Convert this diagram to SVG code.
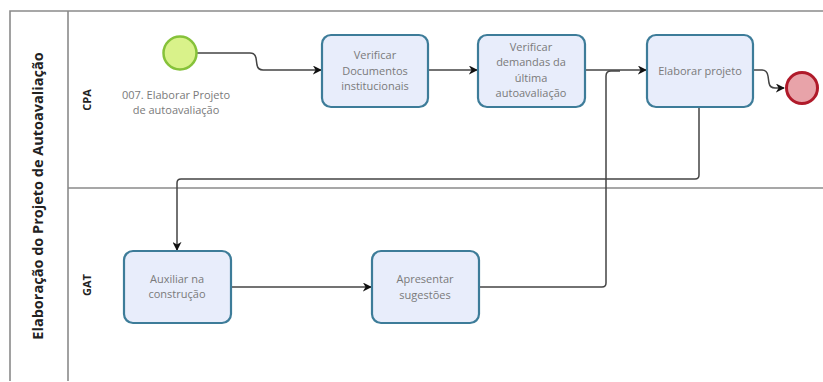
<svg xmlns="http://www.w3.org/2000/svg" width="823" height="382" viewBox="0 0 823 382">
<defs>
<style>
.pool{fill:none;stroke:#8a8a8a;stroke-width:1.6}
.task rect{fill:#e8edfb;stroke:#3d7c99;stroke-width:2.2}
.task text,.lbl{font-family:"Open Sans","Liberation Sans",sans-serif;font-size:11px;fill:#7a7a7a;text-anchor:middle}
.hdr{font-family:"Open Sans","Liberation Sans",sans-serif;font-weight:bold;fill:#222;text-anchor:middle}
.conn path{fill:none;stroke:#444;stroke-width:1.5}
</style>
<marker id="arr" viewBox="0 0 10 10" refX="9" refY="5" markerWidth="9" markerHeight="9" markerUnits="userSpaceOnUse" orient="auto">
<path d="M0,0 L10,5 L0,10 L3,5 z" fill="#111"/>
</marker>
</defs>
<rect width="823" height="382" fill="#fff"/>
<g id="pool">
<path class="pool" d="M823,11 H10 V381 M68,11 V381 M68,188 H823"/>
<text class="hdr" font-size="14.5" transform="translate(43,196) rotate(-90)">Elaboração do Projeto de Autoavaliação</text>
</g>
<g id="lane-cpa"><text class="hdr" font-size="11" transform="translate(91,100) rotate(-90)">CPA</text></g>
<g id="lane-gat"><text class="hdr" font-size="11" transform="translate(91,285) rotate(-90)">GAT</text></g>
<g class="conn" id="connectors">
<path d="M197,53 H250 Q255,53 256,58 L257,65 Q258,70 263,70 H321" marker-end="url(#arr)"/>
<path d="M428,70 H477" marker-end="url(#arr)"/>
<path d="M585,70 H646" marker-end="url(#arr)"/>
<path d="M479,287 H602 Q606,287 606,283 V76 Q606,71 611,71 H620"/>
<path d="M699,107 V175 Q699,179 695,179 H181 Q177,179 177,183 V250" marker-end="url(#arr)"/>
<path d="M231,287 H371" marker-end="url(#arr)"/>
<path d="M753,70 H762 Q767,70 768,76 L769,83 Q770,88 775,88 H784" marker-end="url(#arr)"/>
</g>
<g id="start">
<circle cx="180" cy="53" r="16.5" fill="#d9f28a" stroke="#86c23a" stroke-width="2.5"/>
<text class="lbl" x="176" y="99">007. Elaborar Projeto</text>
<text class="lbl" x="176" y="114">de autoavaliação</text>
</g>
<g id="t1" class="task">
<rect x="322" y="35" width="106" height="72" rx="9"/>
<text x="375" y="59">Verificar</text><text x="375" y="75">Documentos</text><text x="375" y="90">institucionais</text>
</g>
<g id="t2" class="task">
<rect x="478" y="35" width="107" height="72" rx="9"/>
<text x="531" y="51">Verificar</text><text x="531" y="66">demandas da</text><text x="531" y="82">última</text><text x="531" y="97">autoavaliação</text>
</g>
<g id="t3" class="task">
<rect x="647" y="35" width="106" height="72" rx="9"/>
<text x="700" y="75">Elaborar projeto</text>
</g>
<g id="end">
<circle cx="802" cy="88" r="15.5" fill="#e8a3a9" stroke="#b01a2a" stroke-width="3"/>
</g>
<g id="t4" class="task">
<rect x="124" y="251" width="107" height="72" rx="9"/>
<text x="177" y="283">Auxiliar na</text><text x="177" y="298">construção</text>
</g>
<g id="t5" class="task">
<rect x="372" y="251" width="107" height="72" rx="9"/>
<text x="425" y="283">Apresentar</text><text x="425" y="299">sugestões</text>
</g>
</svg>
